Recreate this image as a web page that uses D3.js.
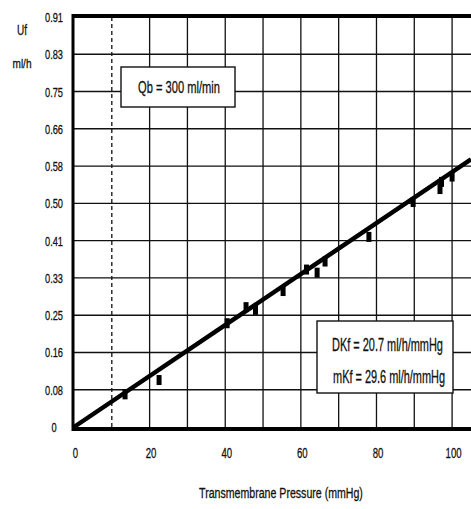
<!DOCTYPE html>
<html>
<head>
<meta charset="utf-8">
<script src="https://cdn.jsdelivr.net/npm/d3@7"></script>
<style>
  body { margin: 0; background: #fff; }
  text { font-family: "Liberation Sans", Arial, sans-serif; fill: #111; stroke: #111; stroke-width: 0.3; }
</style>
</head>
<body>
<div id="chart"></div>
<script>
// measured points (transmembrane pressure, ultrafiltration)
var tmp = [13.5, 22.5, 40.5, 45.5, 48, 55.3, 61.5, 64.3, 66.4, 78, 89.7, 96.8, 97.2, 100];
var uf  = [0.073, 0.105, 0.232, 0.268, 0.262, 0.304, 0.352, 0.345, 0.370, 0.425, 0.503, 0.532, 0.548, 0.560];
var slope = 0.0057;

var xTicks = [0, 20, 40, 60, 80, 100];
var xGrid = [10, 20, 30, 40, 50, 60, 70, 80, 90, 100];
var yTickLabels = ["0", "0.08", "0.16", "0.25", "0.33", "0.41", "0.50", "0.58", "0.66", "0.75", "0.83", "0.91"];

(function() {
  var width = 471, height = 509;
  var margin = { top: 17, left: 74, bottom: 82 };

  var svg = d3.select("#chart")
    .append("svg")
    .attr("width", width)
    .attr("height", height);

  var xScale = d3.scaleLinear().domain([0, 105]).range([margin.left, width]);
  var yScale = d3.scaleLinear().domain([0, 11 / 12]).range([height - margin.bottom, margin.top]);

  var yVals = yTickLabels.map(function(d, i) { return i / 12 });

  // the scan uses a condensed font, so squeeze text horizontally
  function label(g, x, y, size, sx, str, anchor) {
    return g.append("text")
      .attr("transform", "translate(" + x + "," + y + ") scale(" + sx + ",1)")
      .attr("text-anchor", anchor || "middle")
      .attr("font-size", size)
      .text(str);
  }
  // squeeze factor so that str at this size is w pixels wide
  function squeeze(size, w, str) {
    var t = svg.append("text").attr("font-size", size).text(str);
    var n = t.node().getComputedTextLength();
    t.remove();
    return w / n;
  }

  // grid
  svg.append("g").selectAll("line")
    .data(yVals.slice(1, 11))
    .enter().append("line")
    .attr("x1", xScale(0)).attr("x2", width)
    .attr("y1", function(d) { return yScale(d) })
    .attr("y2", function(d) { return yScale(d) })
    .attr("stroke", "#111").attr("stroke-width", 1.4);

  svg.append("g").selectAll("line")
    .data(xGrid)
    .enter().append("line")
    .attr("x1", function(d) { return xScale(d) })
    .attr("x2", function(d) { return xScale(d) })
    .attr("y1", yScale(0)).attr("y2", yScale(11 / 12))
    .attr("stroke", "#111").attr("stroke-width", 1.3)
    .attr("stroke-dasharray", function(d) { return d == 10 ? "4,3" : null });

  // frame
  svg.append("line")
    .attr("x1", xScale(0) - 2).attr("x2", width)
    .attr("y1", yScale(11 / 12) - 1).attr("y2", yScale(11 / 12) - 1)
    .attr("stroke", "#000").attr("stroke-width", 4);
  svg.append("line")
    .attr("x1", xScale(0) - 2).attr("x2", width)
    .attr("y1", yScale(0) + 2).attr("y2", yScale(0) + 2)
    .attr("stroke", "#000").attr("stroke-width", 4);
  svg.append("line")
    .attr("x1", xScale(0) - 1).attr("x2", xScale(0) - 1)
    .attr("y1", yScale(11 / 12) - 3).attr("y2", yScale(0) + 4)
    .attr("stroke", "#000").attr("stroke-width", 3);

  // fitted line through origin
  var lineData = [0, 105];
  svg.append("path")
    .datum(lineData)
    .attr("d", d3.line()
      .x(function(d) { return xScale(d) })
      .y(function(d) { return yScale(d * slope) }))
    .attr("stroke", "#000").attr("stroke-width", 4.5).attr("fill", "none");

  // markers
  svg.append("g").selectAll("rect")
    .data(tmp)
    .enter().append("rect")
    .attr("x", function(d) { return xScale(d) - 2.5 })
    .attr("y", function(d, i) { return yScale(uf[i]) - 5 })
    .attr("width", 5)
    .attr("height", 10)
    .attr("fill", "#000");

  // tick labels
  var yg = svg.append("g");
  var ySq = squeeze(13.5, 18, "0.91");
  yTickLabels.forEach(function(d, i) {
    label(yg, 54, yScale(yVals[i]) + 5, 13.5, ySq, d);
  });

  var xg = svg.append("g");
  var xSq = squeeze(15, 16, "100");
  xTicks.forEach(function(d) {
    label(xg, xScale(d) + 1.5, 458, 15, xSq, d);
  });

  var title = "Transmembrane Pressure (mmHg)";
  label(svg, 281, 498, 15, squeeze(15, 164, title), title);

  label(svg, 22, 35, 15, squeeze(15, 10, "Uf"), "Uf");
  label(svg, 22, 68, 13, squeeze(13, 19, "ml/h"), "ml/h");

  // annotation boxes
  svg.append("rect")
    .attr("x", 121).attr("y", 67).attr("width", 114).attr("height", 40)
    .attr("fill", "#fff").attr("stroke", "#111").attr("stroke-width", 1.4);
  var qb = "Qb = 300 ml/min";
  label(svg, 179, 93, 16.5, squeeze(16.5, 82, qb), qb);

  svg.append("rect")
    .attr("x", 317).attr("y", 321).attr("width", 136).attr("height", 72)
    .attr("fill", "#fff").attr("stroke", "#111").attr("stroke-width", 1.4);
  var dkf = "DKf = 20.7 ml/h/mmHg", mkf = "mKf = 29.6 ml/h/mmHg";
  label(svg, 387.5, 351, 17.5, squeeze(17.5, 111, dkf), dkf);
  label(svg, 389, 383, 17.5, squeeze(17.5, 112, mkf), mkf);
})()
</script>
</body>
</html>
